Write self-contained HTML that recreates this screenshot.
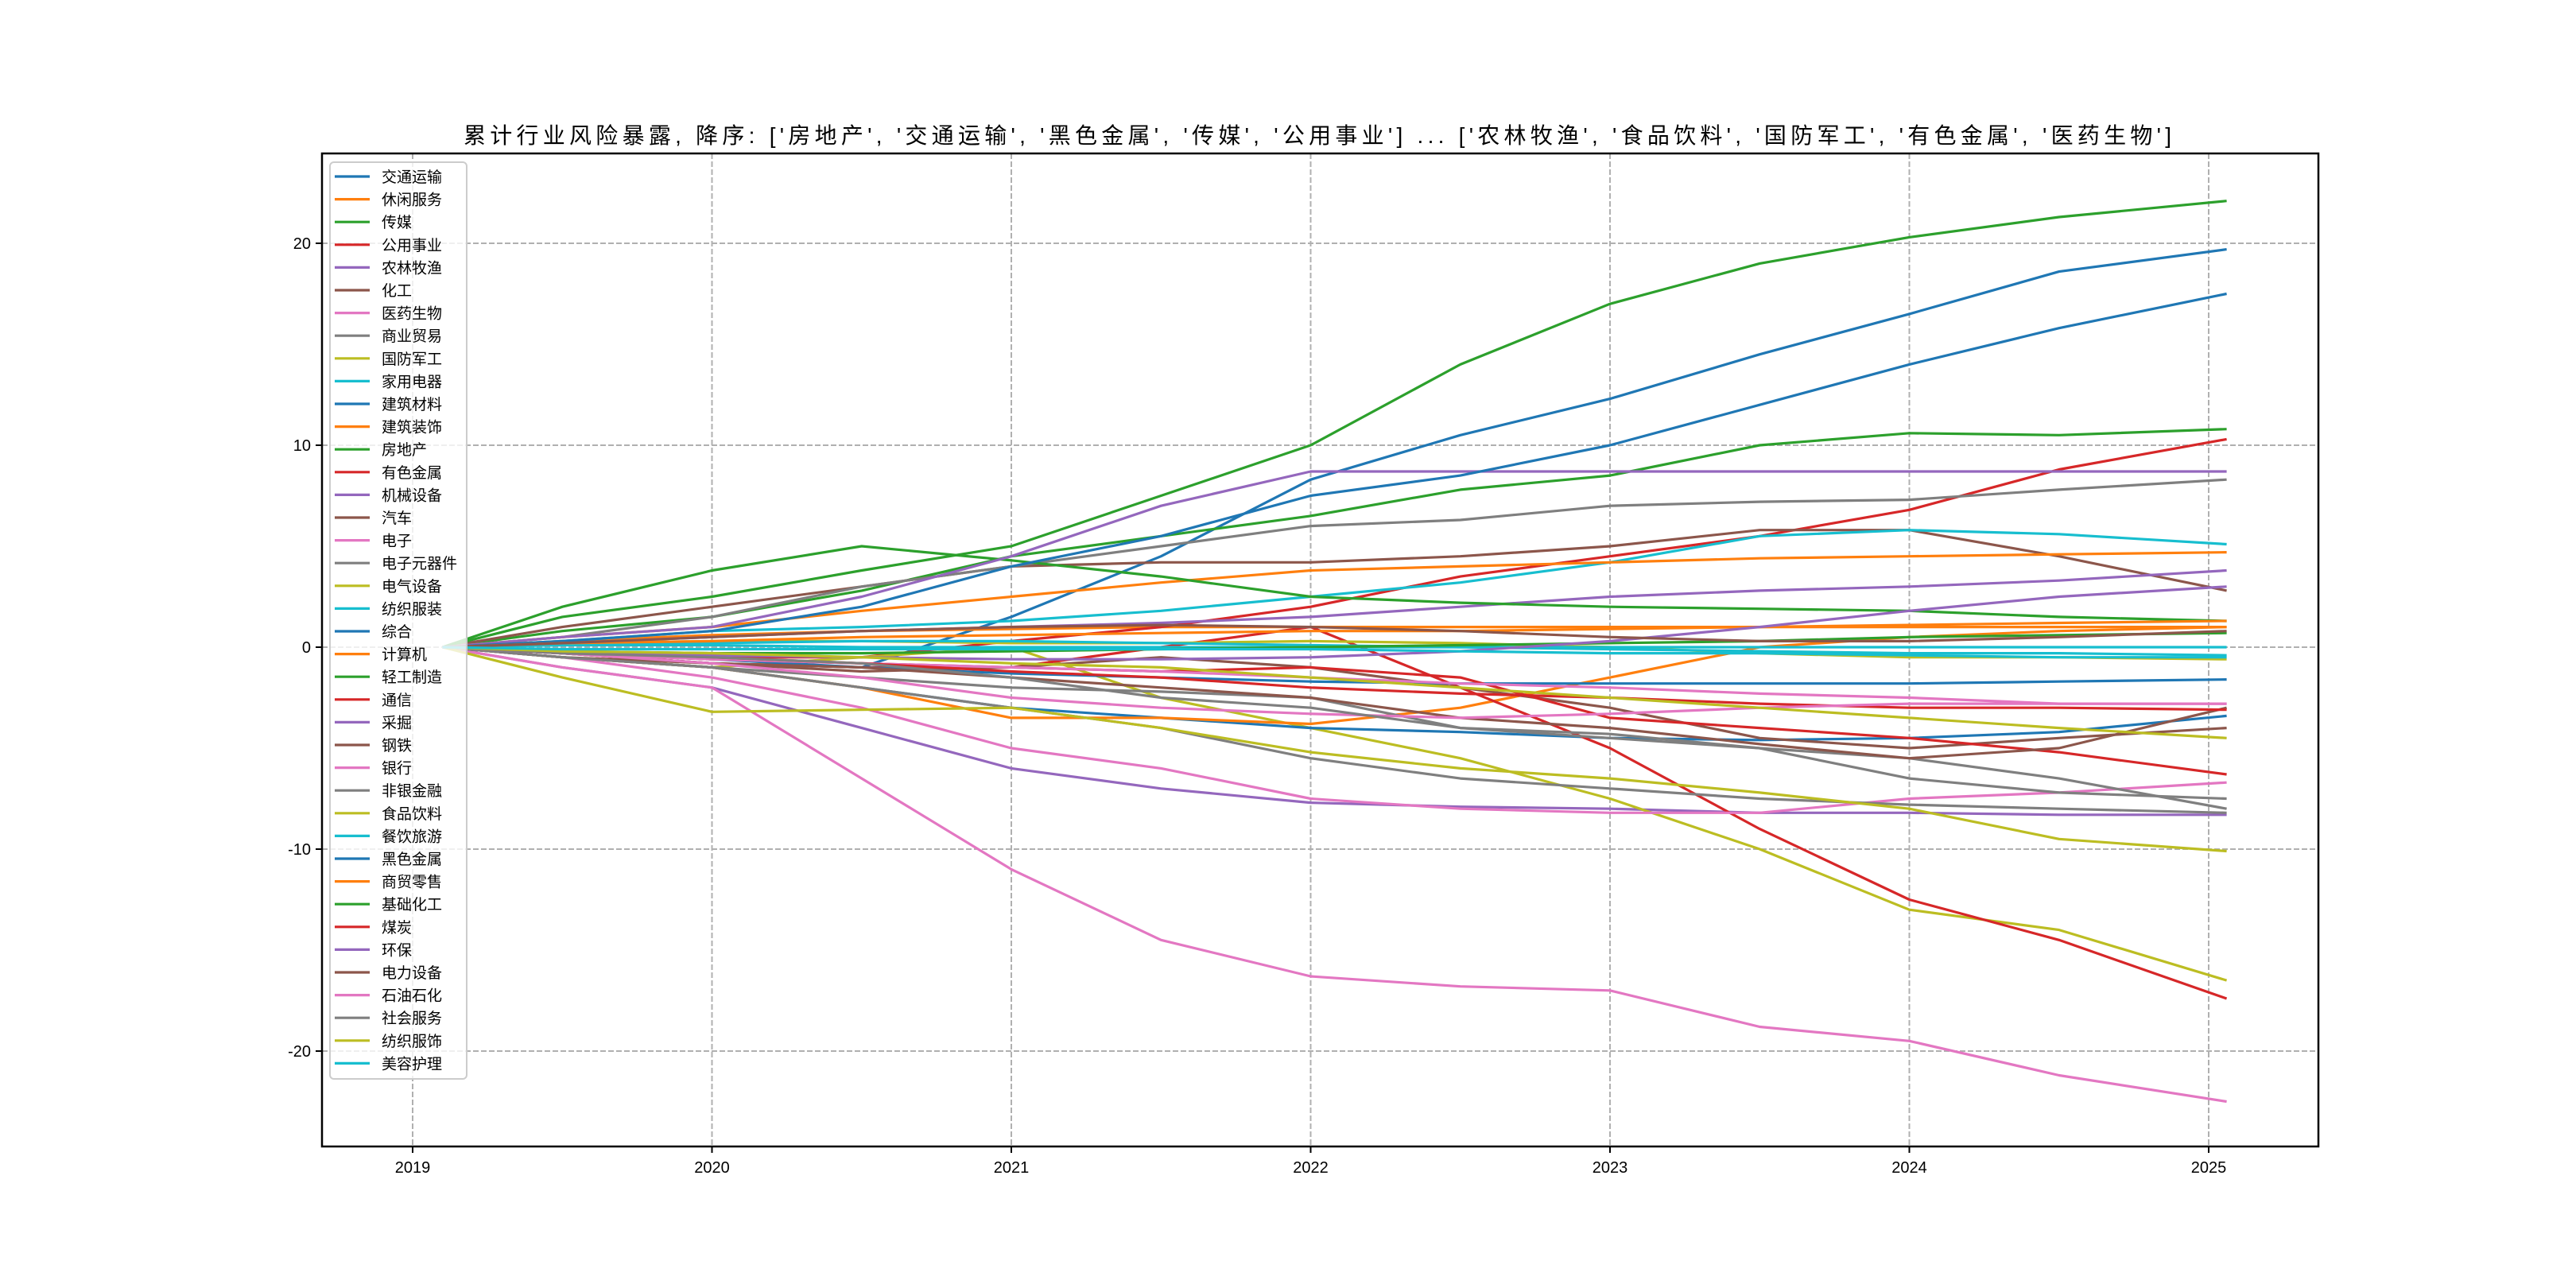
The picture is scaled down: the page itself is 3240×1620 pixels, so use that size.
<!DOCTYPE html>
<html><head><meta charset="utf-8">
<style>
html,body{margin:0;padding:0;background:#fff;}
svg{display:block;}
text{font-family:"Liberation Sans","Noto Sans CJK SC",sans-serif;}
</style></head>
<body>
<svg id="chart" width="3240" height="1620" viewBox="0 0 3240 1620" xmlns="http://www.w3.org/2000/svg">
<rect x="0" y="0" width="3240" height="1620" fill="#fff"/>
<text x="583" y="180" font-size="28" textLength="2148" lengthAdjust="spacing" fill="#000">累计行业风险暴露, 降序: ['房地产', '交通运输', '黑色金属', '传媒', '公用事业'] ... ['农林牧渔', '食品饮料', '国防军工', '有色金属', '医药生物']</text>
<g id="grid"></g>
<g id="lines"></g>
<rect x="405" y="193" width="2511" height="1249" fill="none" stroke="#000" stroke-width="2.5"/>
<g id="ticks"></g>
<g id="legend"></g>
</svg>
<script>
const dates = [2019.1,2019.5,2020,2020.5,2021,2021.5,2022,2022.5,2023,2023.5,2024,2024.5,2025.06];
const names = ["交通运输","休闲服务","传媒","公用事业","农林牧渔","化工","医药生物","商业贸易","国防军工","家用电器","建筑材料","建筑装饰","房地产","有色金属","机械设备","汽车","电子","电子元器件","电气设备","纺织服装","综合","计算机","轻工制造","通信","采掘","钢铁","银行","非银金融","食品饮料","餐饮旅游","黑色金属","商贸零售","基础化工","煤炭","环保","电力设备","石油石化","社会服务","纺织服饰","美容护理"];
const s0=[0,-0.3,-0.8,-1,1.5,4.5,8.3,10.5,12.3,14.5,16.5,18.6,19.7];
const s1=[0,0.3,0.6,0.8,0.9,1,1,1,1,1,1,1,1];
const s2=[0,0.8,1.5,2.8,4.5,5.5,6.5,7.8,8.5,10,10.6,10.5,10.8];
const s3=[0,-0.3,-0.5,-0.5,0.3,1,2,3.5,4.5,5.5,6.8,8.8,10.3];
const s4=[0,-1,-2,-4,-6,-7,-7.7,-7.9,-8,-8.2,-8.2,-8.3,-8.3];
const s5=[0,1,2,3,4,4.2,4.2,4.5,5,5.8,5.8,4.5,2.8];
const s6=[0,-1,-2,-6.5,-11,-14.5,-16.3,-16.8,-17,-18.8,-19.5,-21.2,-22.5];
const s7=[0,0.5,1.5,3,4,5,6,6.3,7,7.2,7.3,7.8,8.3];
const s8=[0,-0.5,-1,-0.5,0,-2.5,-4,-5.5,-7.5,-10,-13,-14,-16.5];
const s9=[0,0.3,0.8,1,1.3,1.8,2.5,3.2,4.2,5.5,5.8,5.6,5.1];
const s10=[0,-0.5,-1,-2,-3,-3.5,-4,-4.2,-4.5,-4.6,-4.5,-4.2,-3.4];
const s11=[0,-0.5,-1,-2,-3.5,-3.5,-3.8,-3,-1.5,0,0.5,0.8,1];
const s12=[0,1.5,2.5,3.8,5,7.5,10,14,17,19,20.3,21.3,22.1];
const s13=[0,-0.3,-0.8,-1,-1,0,1,-2,-5,-9,-12.5,-14.5,-17.4];
const s14=[0,0.2,0.5,0.8,1,1.2,1.5,2,2.5,2.8,3,3.3,3.8];
const s15=[0,-0.3,-0.8,-1.2,-1,-0.5,-1,-2,-3,-4.5,-5,-4.5,-4];
const s16=[0,-0.5,-1.5,-3,-5,-6,-7.5,-8,-8.2,-8.2,-7.5,-7.2,-6.7];
const s17=[0,-0.5,-1,-1.5,-2,-2.2,-2.5,-4,-4.3,-5,-5.5,-6.5,-8];
const s18=[0,0.2,0.3,0.3,0.2,0.2,0.3,0.2,0,-0.3,-0.5,-0.5,-0.6];
const s19=[0,0.1,0.2,0.3,0.3,0.2,0.1,0,-0.1,-0.2,-0.3,-0.3,-0.4];
const s20=[0,-0.3,-0.6,-1,-1.3,-1.5,-1.7,-1.8,-1.8,-1.8,-1.8,-1.7,-1.6];
const s21=[0,0.5,1,1.8,2.5,3.2,3.8,4,4.2,4.4,4.5,4.6,4.7];
const s22=[0,2,3.8,5,4.3,3.5,2.5,2.2,2,1.9,1.8,1.5,1.3];
const s23=[0,-0.3,-0.6,-0.8,-1,-1.2,-1,-1.5,-3.5,-4,-4.5,-5.2,-6.3];
const s24=[0,0.5,1,2.5,4.5,7,8.7,8.7,8.7,8.7,8.7,8.7,8.7];
const s25=[0,-0.5,-0.8,-1,-1.5,-2,-2.5,-3.5,-4,-4.8,-5.5,-5,-3];
const s26=[0,-0.3,-0.6,-0.8,-1,-1.2,-1.5,-1.8,-2,-2.3,-2.5,-2.8,-2.8];
const s27=[0,-0.5,-1,-2,-3,-4,-5.5,-6.5,-7,-7.5,-7.8,-8,-8.2];
const s28=[0,-1.5,-3.2,-3.1,-3,-4,-5.2,-6,-6.5,-7.2,-8,-9.5,-10.1];
const s29=[0,0.1,0.1,0,0,0,0,0,0,0,0,0,0];
const s30=[0,0.3,0.8,2,4,5.5,7.5,8.5,10,12,14,15.8,17.5];
const s31=[0,0.2,0.3,0.5,0.6,0.7,0.8,0.8,0.9,1,1.1,1.2,1.3];
const s32=[0,-0.2,-0.3,-0.3,-0.2,-0.1,0,0.1,0.2,0.3,0.5,0.6,0.7];
const s33=[0,-0.2,-0.5,-0.8,-1.2,-1.5,-2,-2.3,-2.5,-2.8,-3,-3,-3.1];
const s34=[0,-0.2,-0.4,-0.5,-0.6,-0.6,-0.5,-0.2,0.3,1,1.8,2.5,3];
const s35=[0,0.2,0.5,0.8,1,1.1,1,0.8,0.5,0.3,0.3,0.5,0.8];
const s36=[0,-0.3,-0.8,-1.5,-2.5,-3,-3.3,-3.5,-3.3,-3,-2.8,-2.8,-2.8];
const s37=[0,-0.3,-0.5,-0.8,-1.5,-2.5,-3,-4,-4.5,-5,-6.5,-7.2,-7.5];
const s38=[0,-0.2,-0.3,-0.5,-0.8,-1,-1.5,-2,-2.5,-3,-3.5,-4,-4.5];
const s39=[0,-0.1,-0.1,-0.1,-0.1,-0.1,-0.1,-0.2,-0.3,-0.3,-0.4,-0.5,-0.5];
const series=[s0,s1,s2,s3,s4,s5,s6,s7,s8,s9,s10,s11,s12,s13,s14,s15,s16,s17,s18,s19,s20,s21,s22,s23,s24,s25,s26,s27,s28,s29,s30,s31,s32,s33,s34,s35,s36,s37,s38,s39];
const yTicks=[-20,-10,0,10,20];
const xTicks=[2019,2020,2021,2022,2023,2024,2025];

const colors=["#1f77b4","#ff7f0e","#2ca02c","#d62728","#9467bd","#8c564b","#e377c2","#7f7f7f","#bcbd22","#17becf"];
const NS="http://www.w3.org/2000/svg";
const L=405,R=2916,T=193,B=1442;
function xs(t){return 519+(t-2019)*376.5;}
function ys(v){return 814-v*25.4;}
function mk(tag,attrs,parent){const e=document.createElementNS(NS,tag);for(const k in attrs)e.setAttribute(k,attrs[k]);parent.appendChild(e);return e;}
const grid=document.getElementById('grid'),ticks=document.getElementById('ticks'),lines=document.getElementById('lines'),legend=document.getElementById('legend');
yTicks.forEach(v=>{
  const y=ys(v);
  const g=mk('line',{x1:L,x2:R,y1:y,y2:y,stroke:'#b0b0b0','stroke-width':2,'stroke-dasharray':'7,3'},grid);
  
  
  mk('line',{x1:L-8,x2:L,y1:y,y2:y,stroke:'#000','stroke-width':2},ticks);
  const t=mk('text',{x:L-14,y:y+7,'font-size':20,'text-anchor':'end',fill:'#000'},ticks);
  t.textContent=String(v);
  
  
});
xTicks.forEach(v=>{
  const x=xs(v);
  const g=mk('line',{x1:x,x2:x,y1:T,y2:B,stroke:'#b0b0b0','stroke-width':2,'stroke-dasharray':'7,3'},grid);
  
  
  mk('line',{x1:x,x2:x,y1:B,y2:B+8,stroke:'#000','stroke-width':2},ticks);
  const t=mk('text',{x:x,y:B+33,'font-size':20,'text-anchor':'middle',fill:'#000'},ticks);
  t.textContent=String(v);
  
  
});
series.forEach((s,i)=>{
  const pts=s.map((v,j)=>xs(dates[j]).toFixed(1)+','+ys(v).toFixed(1)).join(' ');
  const p=mk('polyline',{points:pts,fill:'none',stroke:colors[i%10],'stroke-width':3.2,'stroke-linejoin':'round'},lines);
  
  
});
const lb=mk('rect',{x:415,y:204,width:172,height:1153,rx:5,fill:'#fff','fill-opacity':0.8,stroke:'#ccc','stroke-width':2},legend);


names.forEach((n,i)=>{
  const y=222+i*28.6;
  const g=mk('g',{},legend);
  
  
  mk('line',{x1:421,x2:465,y1:y,y2:y,stroke:colors[i%10],'stroke-width':3.2},g);
  const t=mk('text',{x:480,y:y+7,'font-size':19,fill:'#000'},g);
  t.textContent=n;
});
</script>
</body></html>
